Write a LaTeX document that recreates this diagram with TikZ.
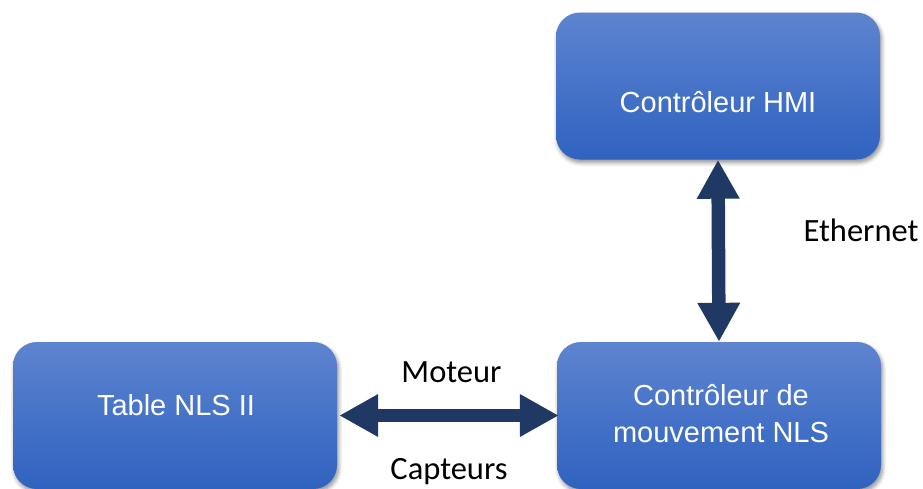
\documentclass[tikz,border=0pt]{standalone}
\usepackage{fontspec}
\setmainfont{Liberation Sans}
\newfontfamily\calib{Carlito}
\usetikzlibrary{arrows.meta,shadows.blur}
\definecolor{btop}{HTML}{5E84CF}
\definecolor{bmid}{HTML}{4673C8}
\definecolor{bbot}{HTML}{3062C0}
\definecolor{navy}{HTML}{203864}
\tikzset{
  box/.style={rectangle, rounded corners=24pt, minimum width=324pt, minimum height=147pt,
    top color=btop, bottom color=bbot, middle color=bmid, draw=none,
    blur shadow={shadow blur steps=6, shadow xshift=1.5pt, shadow yshift=-3pt, shadow opacity=45, shadow blur radius=4pt}},
  boxtext/.style={text=white, font=\fontsize{29}{37}\selectfont, anchor=base, inner sep=0pt},
  lbl/.style={text=black, font=\calib\fontsize{32.5}{39}\selectfont, anchor=base, inner sep=0pt},
  bigarrow/.style={draw=navy, line width=13.5pt, {Triangle[length=39pt,width=40pt]}-{Triangle[length=39pt,width=40pt]}}
}
\begin{document}
\begin{tikzpicture}[x=1pt,y=-1pt]
\useasboundingbox (0,0) rectangle (923,488);
\node[box] (hmi) at (718,86) {};
\node[box] (table) at (175,415.5) {};
\node[box] (motion) at (719,415.5) {};
\node[boxtext] (hmitxt) at (718,112) {Contrôleur HMI};
\node[boxtext] (tabletxt) at (176,415) {Table NLS II};
\node[boxtext] (motiontxt1) at (721,405) {Contrôleur de};
\node[boxtext] (motiontxt2) at (721,442) {mouvement NLS};
\draw[bigarrow] (hmi.south) -- (motion.north);
\draw[bigarrow] ([xshift=2pt]table.east) -- ([xshift=2pt]motion.west);
\node[lbl] (eth) at (861,241) {Ethernet};
\node[lbl] (mot) at (451.5,382) {Moteur};
\node[lbl] (cap) at (449,479.5) {Capteurs};
\end{tikzpicture}
\end{document}
